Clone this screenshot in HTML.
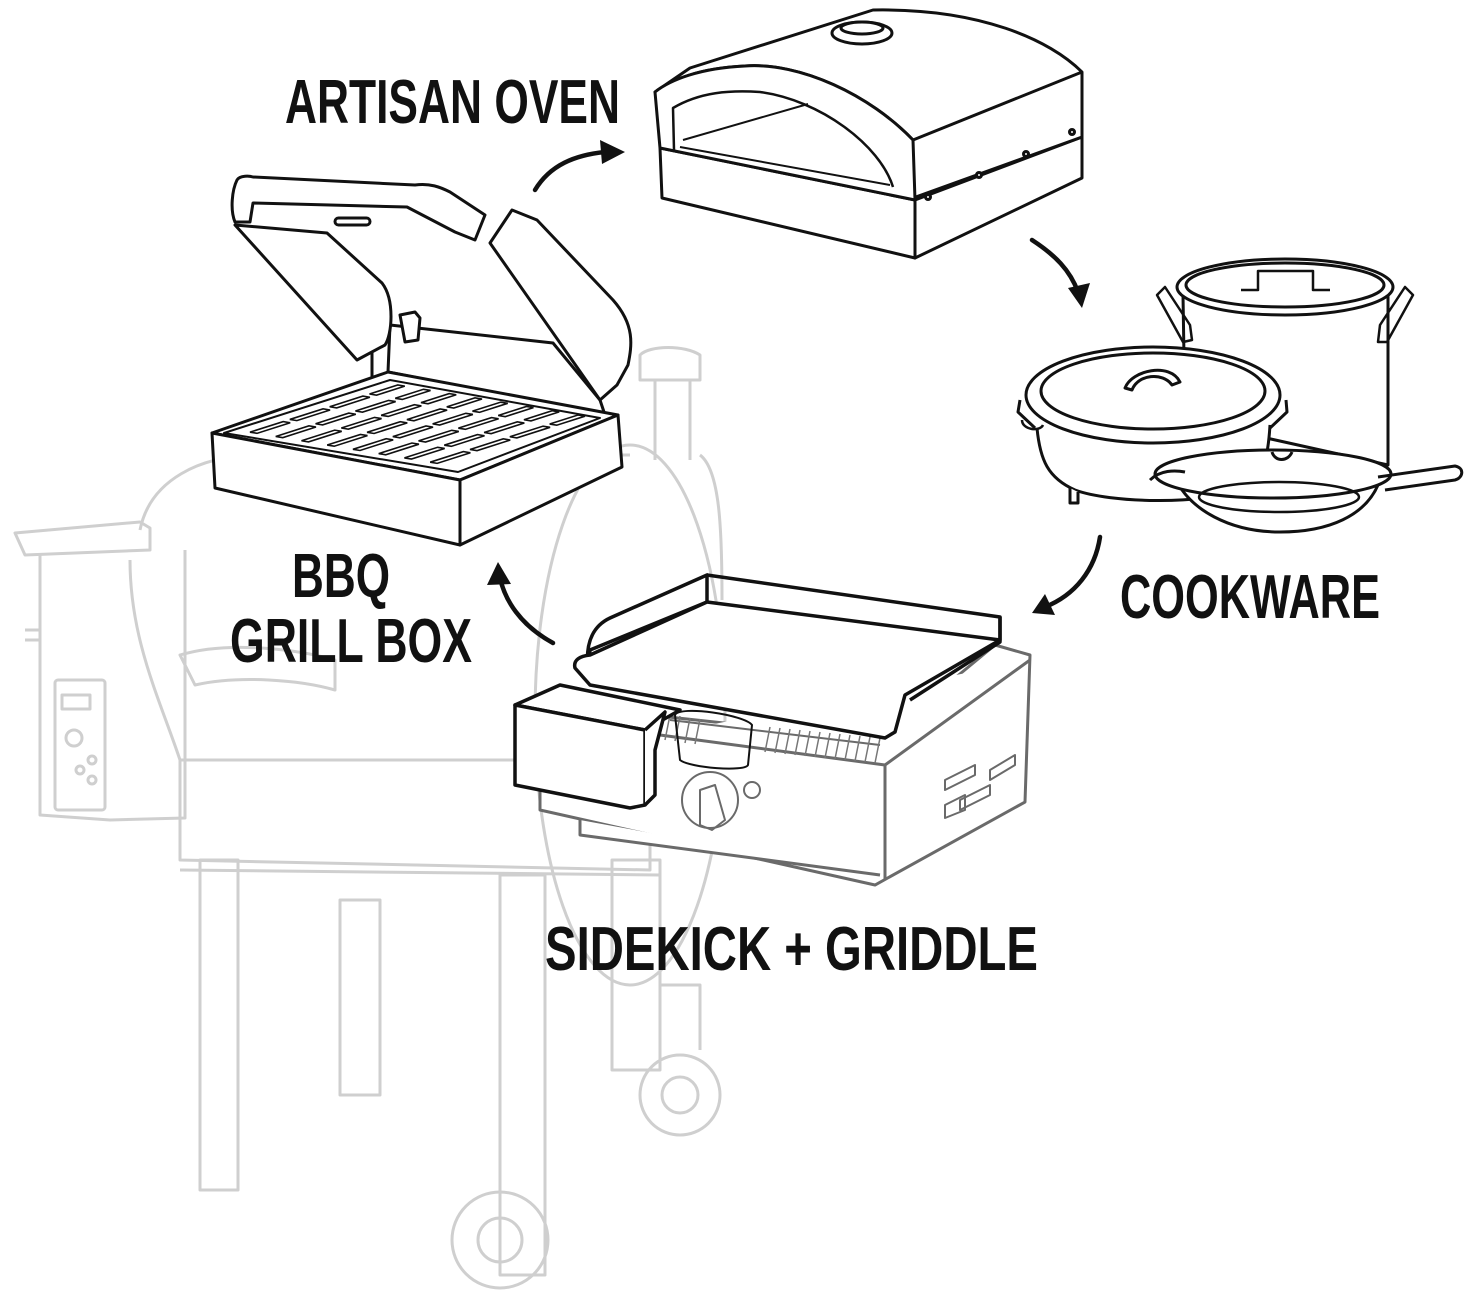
<!DOCTYPE html>
<html><head><meta charset="utf-8"><style>
html,body{margin:0;padding:0;background:#fff;}
svg{display:block}
text{font-family:"Liberation Sans Narrow","Liberation Sans",sans-serif;font-weight:bold;fill:#111;}
</style></head><body>
<svg width="1471" height="1296" viewBox="0 0 1471 1296" xmlns="http://www.w3.org/2000/svg">
<!-- Smoker (light gray) -->
<g fill="none" stroke="#cfcfcf" stroke-width="3" stroke-linejoin="round">
  <path d="M15,533 L140,522 L150,528 L150,550 L25,555 Z"/>
  <path d="M40,553 L40,815 L110,820 L185,818 L185,550"/>
  <rect x="55" y="680" width="50" height="130" rx="3"/>
  <rect x="62" y="695" width="28" height="14"/>
  <circle cx="74" cy="738" r="8"/><circle cx="92" cy="760" r="4"/><circle cx="80" cy="770" r="4"/><circle cx="92" cy="780" r="4"/>
  <path d="M25,630 L40,630 M25,640 L40,640"/>
  <path d="M140,530 C150,480 200,455 260,455 L630,455"/>
  <path d="M130,560 C130,640 160,700 180,760"/>
  <ellipse cx="630" cy="715" rx="95" ry="270"/>
  <path d="M700,455 C720,470 722,530 722,600"/>
  <path d="M180,655 C230,640 300,650 335,660 L335,690 C300,680 240,675 195,685 Z"/>
  <path d="M640,355 C650,345 685,345 700,355 L700,380 L640,380 Z"/>
  <path d="M655,380 L655,460 M690,380 L690,460"/>
  <path d="M180,760 L650,760 L650,870 L180,860 Z"/>
  <path d="M180,870 L660,875"/>
  <rect x="200" y="860" width="38" height="330"/>
  <rect x="340" y="900" width="40" height="195"/>
  <rect x="500" y="875" width="45" height="400"/>
  <rect x="612" y="860" width="48" height="210"/>
  <circle cx="500" cy="1240" r="48"/><circle cx="500" cy="1240" r="22"/>
  <circle cx="680" cy="1095" r="40"/><circle cx="680" cy="1095" r="18"/>
  <path d="M660,985 L700,985 L700,1050"/>
</g>
<!-- Sidekick body (dark gray) -->
<g fill="#fff" stroke="#6a6a6a" stroke-width="3" stroke-linejoin="round">
  <path d="M540,795 L540,810 L875,885 L1025,802 L1030,655 L995,645 L880,740 L650,715 L650,760 L540,760 Z"/>
  <path d="M580,820 L580,835 L880,875"/>
  <path d="M660,735 L885,765 L1030,660 M885,765 L885,880"/>
  <g fill="none" stroke-width="2">
    <path d="M670,720 L880,745"/>
    <circle cx="710" cy="800" r="28"/><circle cx="752" cy="790" r="8"/>
    <path d="M700,790 L715,785 L725,820 L712,830 L700,825 Z"/>
    <path d="M945,780 L975,765 L975,775 L945,790 Z M960,800 L990,785 L990,795 L960,810 Z M990,770 L1015,755 L1015,765 L990,780 Z M945,805 L965,795 L965,810 L945,818 Z"/>
  </g>
</g>
<g stroke="#777" stroke-width="1.5" fill="none">
  <path d="M670,715 l-5,25 M680,716 l-5,25 M690,718 l-5,25 M700,719 l-5,25 M770,727 l-5,25 M780,728 l-5,25 M790,729 l-5,25 M800,730 l-5,25 M810,731 l-5,25 M820,732 l-5,25 M830,733 l-5,25 M840,734 l-5,25 M850,735 l-5,25 M860,736 l-5,25 M870,737 l-5,25 M880,738 l-5,25"/>
</g>
<!-- Griddle (black) -->
<g fill="#fff" stroke="#111" stroke-width="3.5" stroke-linejoin="round">
  <path d="M588,668 C585,640 595,625 610,618 L707,575 L707,602 L590,650 Z"/>
  <path d="M707,575 L1000,617 L1000,640 L905,695 L895,732 L885,738 L590,685 L575,668 C573,660 580,656 590,655 L707,602 L1000,640"/>
  <path d="M1000,617 L1000,642 L910,700" fill="none"/>
  <path d="M675,715 C680,705 745,715 752,725 L748,765 C745,772 690,768 680,760 Z" fill="none" stroke-width="2"/>
  <path d="M515,705 L560,685 L680,710 L645,730 Z"/>
  <path d="M515,705 L645,730 L645,805 L630,808 L515,785 Z"/>
  <path d="M645,730 L665,712 L655,750 L655,795 L645,805"/>
</g>
<!-- Grill box -->
<g fill="#fff" stroke="#111" stroke-width="3" stroke-linejoin="round">
  <path d="M372,330 L390,325 L390,375 L372,378 Z"/>
  <path d="M390,325 L553,343 L600,400 L605,415 L388,372 Z"/>
  <path d="M212,433 L388,372 L618,415 L460,480 Z"/>
  <path d="M224,433 L390,380 L600,418 L458,472 Z" fill="none" stroke-width="2"/>
  <path d="M212,433 L460,480 L460,545 L215,488 Z"/>
  <path d="M460,480 L618,415 L622,467 L460,545 Z"/>
  <path d="M235,225 L327,233 L382,283 C395,300 392,335 385,345 L357,360 Z"/>
  <path d="M490,243 L512,210 L537,220 L613,300 C635,325 632,345 628,365 L617,385 L600,400 Z"/>
  <path d="M237,180 C240,175 250,176 253,177 L415,185 C430,183 440,187 450,192 L485,215 L475,240 L455,232 L407,207 L253,203 L250,222 L235,222 C230,210 232,190 237,180 Z"/>
  <rect x="335" y="218" width="35" height="7" rx="3.5"/>
  <path d="M400,315 L415,312 L420,318 L418,340 L405,342 Z"/>
</g>
<g transform="matrix(166,-53,234,39,226,433)" fill="none" stroke="#111" stroke-width="1.6">
  <g vector-effect="non-scaling-stroke">
  <rect vector-effect="non-scaling-stroke" x="0.06" y="0.06" width="0.2" height="0.03"/>
  <rect vector-effect="non-scaling-stroke" x="0.3" y="0.06" width="0.2" height="0.03"/>
  <rect vector-effect="non-scaling-stroke" x="0.54" y="0.06" width="0.2" height="0.03"/>
  <rect vector-effect="non-scaling-stroke" x="0.78" y="0.06" width="0.17" height="0.03"/>
  <rect vector-effect="non-scaling-stroke" x="0.06" y="0.17" width="0.2" height="0.03"/>
  <rect vector-effect="non-scaling-stroke" x="0.3" y="0.17" width="0.2" height="0.03"/>
  <rect vector-effect="non-scaling-stroke" x="0.54" y="0.17" width="0.2" height="0.03"/>
  <rect vector-effect="non-scaling-stroke" x="0.78" y="0.17" width="0.17" height="0.03"/>
  <rect vector-effect="non-scaling-stroke" x="0.06" y="0.28" width="0.2" height="0.03"/>
  <rect vector-effect="non-scaling-stroke" x="0.3" y="0.28" width="0.2" height="0.03"/>
  <rect vector-effect="non-scaling-stroke" x="0.54" y="0.28" width="0.2" height="0.03"/>
  <rect vector-effect="non-scaling-stroke" x="0.78" y="0.28" width="0.17" height="0.03"/>
  <rect vector-effect="non-scaling-stroke" x="0.06" y="0.39" width="0.2" height="0.03"/>
  <rect vector-effect="non-scaling-stroke" x="0.3" y="0.39" width="0.2" height="0.03"/>
  <rect vector-effect="non-scaling-stroke" x="0.54" y="0.39" width="0.2" height="0.03"/>
  <rect vector-effect="non-scaling-stroke" x="0.78" y="0.39" width="0.17" height="0.03"/>
  <rect vector-effect="non-scaling-stroke" x="0.06" y="0.5" width="0.2" height="0.03"/>
  <rect vector-effect="non-scaling-stroke" x="0.3" y="0.5" width="0.2" height="0.03"/>
  <rect vector-effect="non-scaling-stroke" x="0.54" y="0.5" width="0.2" height="0.03"/>
  <rect vector-effect="non-scaling-stroke" x="0.78" y="0.5" width="0.17" height="0.03"/>
  <rect vector-effect="non-scaling-stroke" x="0.06" y="0.61" width="0.2" height="0.03"/>
  <rect vector-effect="non-scaling-stroke" x="0.3" y="0.61" width="0.2" height="0.03"/>
  <rect vector-effect="non-scaling-stroke" x="0.54" y="0.61" width="0.2" height="0.03"/>
  <rect vector-effect="non-scaling-stroke" x="0.78" y="0.61" width="0.17" height="0.03"/>
  <rect vector-effect="non-scaling-stroke" x="0.06" y="0.72" width="0.2" height="0.03"/>
  <rect vector-effect="non-scaling-stroke" x="0.3" y="0.72" width="0.2" height="0.03"/>
  <rect vector-effect="non-scaling-stroke" x="0.54" y="0.72" width="0.2" height="0.03"/>
  <rect vector-effect="non-scaling-stroke" x="0.78" y="0.72" width="0.17" height="0.03"/>
  <rect vector-effect="non-scaling-stroke" x="0.06" y="0.83" width="0.2" height="0.03"/>
  <rect vector-effect="non-scaling-stroke" x="0.3" y="0.83" width="0.2" height="0.03"/>
  <rect vector-effect="non-scaling-stroke" x="0.54" y="0.83" width="0.2" height="0.03"/>
  <rect vector-effect="non-scaling-stroke" x="0.78" y="0.83" width="0.17" height="0.03"/>
  </g>
</g>
<!-- Artisan oven -->
<g fill="#fff" stroke="#111" stroke-width="3" stroke-linejoin="round">
  <path d="M915,200 L1082,137 L1082,178 L915,258 Z"/>
  <path d="M660,148 L915,200 L915,258 L662,198 Z"/>
  <path d="M655,92 L690,68 L873,10 C980,8 1050,40 1082,72 L1082,137 L913,198 L913,140 C870,95 800,62 745,66 C700,68 670,80 655,92 Z"/>
  <path d="M913,140 L1082,72" fill="none"/>
  <path d="M655,92 C670,80 700,68 745,66 C800,62 870,95 913,140 L915,200 L660,148 Z"/>
  <path d="M674,150 L673,108 C700,92 730,90 760,92 C820,100 880,145 893,187" fill="none" stroke-width="2.5"/>
  <path d="M680,147 L890,185 M683,140 L808,104" fill="none" stroke-width="2"/>
  <ellipse cx="862" cy="33" rx="30" ry="11"/>
  <ellipse cx="862" cy="28" rx="21" ry="6"/>
  <circle cx="928" cy="197" r="2.5"/><circle cx="979" cy="175" r="2.5"/><circle cx="1026" cy="154" r="2.5"/><circle cx="1072" cy="132" r="2.5"/>
</g>
<!-- Cookware -->
<g fill="#fff" stroke="#111" stroke-width="3" stroke-linejoin="round">
  <path d="M1183,295 L1185,420 L1388,465 L1388,295"/>
  <ellipse cx="1285" cy="287" rx="108" ry="28"/>
  <ellipse cx="1285" cy="285" rx="99" ry="22"/>
  <path d="M1241,290 L1258,290 L1258,271 L1313,271 L1313,290 L1330,290" fill="none" stroke-width="2.5"/>
  <path d="M1157,295 L1165,287 L1190,325 L1192,340 L1183,342 Z" fill="none" stroke-width="2.5"/>
  <path d="M1413,295 L1405,287 L1380,325 L1378,342 L1387,342 Z" fill="none" stroke-width="2.5"/>
  <path d="M1037,428 C1040,460 1048,478 1075,490 C1110,503 1200,505 1245,490 C1262,480 1268,460 1270,425"/>
  <path d="M1070,488 L1070,503 L1078,503 L1078,492" />
  <ellipse cx="1153" cy="395" rx="127" ry="48"/>
  <ellipse cx="1153" cy="391" rx="112" ry="38"/>
  <path d="M1125,388 C1132,370 1170,362 1180,382 L1172,385 C1163,372 1138,374 1132,390 Z"/>
  <path d="M1020,400 L1018,412 L1035,428 M1286,400 L1287,412 L1270,428" fill="none"/>
  <path d="M1022,420 C1022,430 1040,432 1043,425" fill="none" stroke-width="2.5"/>
  <path d="M1175,478 C1190,510 1230,532 1280,532 C1330,532 1365,515 1378,485 Z"/>
  <ellipse cx="1273" cy="474" rx="118" ry="24"/>
  <ellipse cx="1279" cy="497" rx="80" ry="15" fill="none" stroke-width="2.5"/>
  <path d="M1150,480 C1160,470 1175,470 1185,472 M1272,452 C1275,462 1288,462 1292,452" fill="none"/>
  <path d="M1378,477 L1455,466 C1465,468 1463,478 1455,480 L1385,490" fill="none"/>
</g>
<!-- Arrows -->
<g fill="none" stroke="#111" stroke-width="4.5" stroke-linecap="round">
  <path d="M535,190 C550,165 575,155 605,152"/>
  <path d="M1032,240 C1055,255 1070,270 1078,292"/>
  <path d="M1100,537 C1095,570 1075,595 1045,607"/>
  <path d="M553,643 C520,625 505,600 500,578"/>
</g>
<g fill="#111">
  <path d="M625,152 L600,140 L602,164 Z"/>
  <path d="M1082,308 L1068,288 L1090,283 Z"/>
  <path d="M1032,613 L1045,594 L1055,615 Z"/>
  <path d="M498,562 L487,585 L511,584 Z"/>
</g>
<!-- Labels -->
<text x="285" y="123" font-size="62" textLength="335" lengthAdjust="spacingAndGlyphs">ARTISAN OVEN</text>
<text x="292" y="597" font-size="62" textLength="98" lengthAdjust="spacingAndGlyphs">BBQ</text>
<text x="230" y="662" font-size="62" textLength="242" lengthAdjust="spacingAndGlyphs">GRILL BOX</text>
<text x="1120" y="618" font-size="62" textLength="260" lengthAdjust="spacingAndGlyphs">COOKWARE</text>
<text x="545" y="970" font-size="62" textLength="493" lengthAdjust="spacingAndGlyphs">SIDEKICK + GRIDDLE</text>
</svg>
</body></html>
